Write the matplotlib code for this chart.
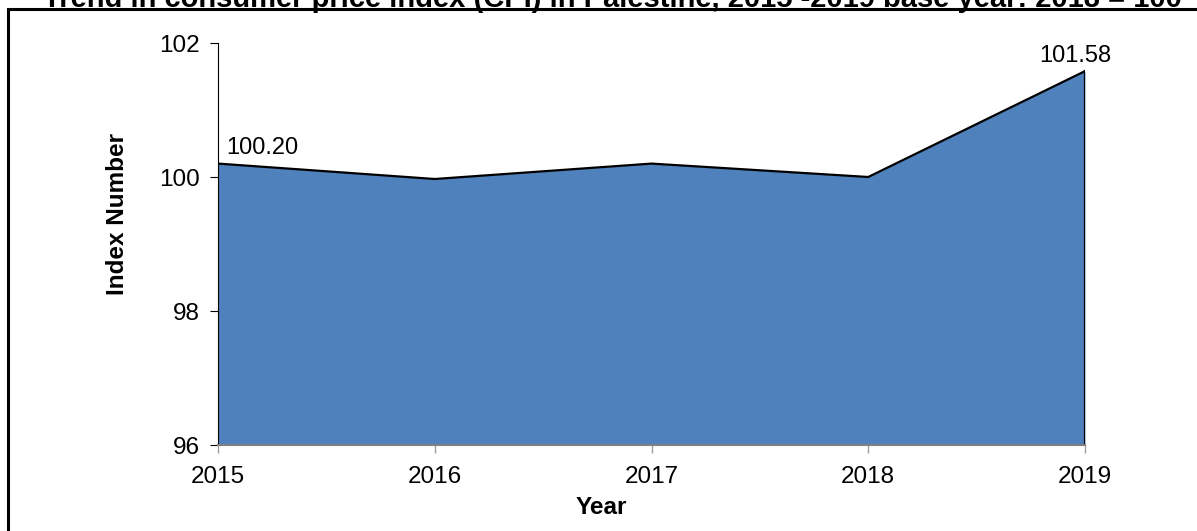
import matplotlib.pyplot as plt
from matplotlib.patches import Rectangle

plt.rcParams['font.family'] = ['Liberation Sans', 'DejaVu Sans']

# data
years = [2015, 2016, 2017, 2018, 2019]
cpi = [100.20, 99.97, 100.20, 100.00, 101.58]
labelled = {2015: '100.20', 2019: '101.58'}
title = 'Trend in consumer price index (CPI) in Palestine, 2015 -2019 base year: 2018 = 100'

W, H = 1197, 531
fig = plt.figure(figsize=(W / 100, H / 100), dpi=100)

# axes box in pixels: x 218..1085, y 43..445 (from top)
ax = fig.add_axes([218 / W, 1 - 445 / H, (1085 - 218) / W, (445 - 43) / H])

ax.fill_between(years, 96, cpi, color='#4F81BD', lw=0)
ax.plot(years, cpi, color='black', lw=1.6, solid_joinstyle='miter')
ax.plot([years[-1], years[-1]], [96, cpi[-1]], color='black', lw=1.6)

ax.set_xlim(2015, 2019)
ax.set_ylim(96, 102)
ax.set_xticks(years)
ax.set_yticks([96, 98, 100, 102])

for s in ['top', 'right']:
    ax.spines[s].set_visible(False)
ax.spines['left'].set_color('black')
ax.spines['left'].set_linewidth(0.8)
ax.spines['bottom'].set_color('#808080')
ax.spines['bottom'].set_linewidth(1.5)
ax.tick_params(axis='y', length=6, width=0.8, color='black', labelsize=17.5, pad=7)
ax.tick_params(axis='x', length=6, width=1, color='#A0A0A0', labelsize=17.5, pad=9)

for x, txt in labelled.items():
    y = cpi[years.index(x)]
    if x == years[0]:
        ax.annotate(txt, (x, y), xytext=(6, 7), textcoords='offset points',
                    ha='left', va='baseline', fontsize=17)
    else:
        ax.annotate(txt, (x, y), xytext=(-7, 6.5), textcoords='offset points',
                    ha='center', va='baseline', fontsize=17)

fig.text(118 / W, 1 - 214 / H, 'Index Number', rotation=90, ha='center', va='center',
         fontsize=17.5, fontweight='bold')
fig.text(601 / W, 1 - 508 / H, 'Year', ha='center', va='center',
         fontsize=17.5, fontweight='bold')

# chart frame, cut off at the top/right/bottom
fig.patches.append(Rectangle((8 / W, -0.1), 1.2, 1 - 9 / H + 0.1, transform=fig.transFigure,
                             fill=False, edgecolor='black', lw=2.2))
fig.text(43 / W, 1 - 7 / H, title, ha='left', va='baseline', fontsize=21, fontweight='bold')

fig.savefig('out.png', dpi=100)
